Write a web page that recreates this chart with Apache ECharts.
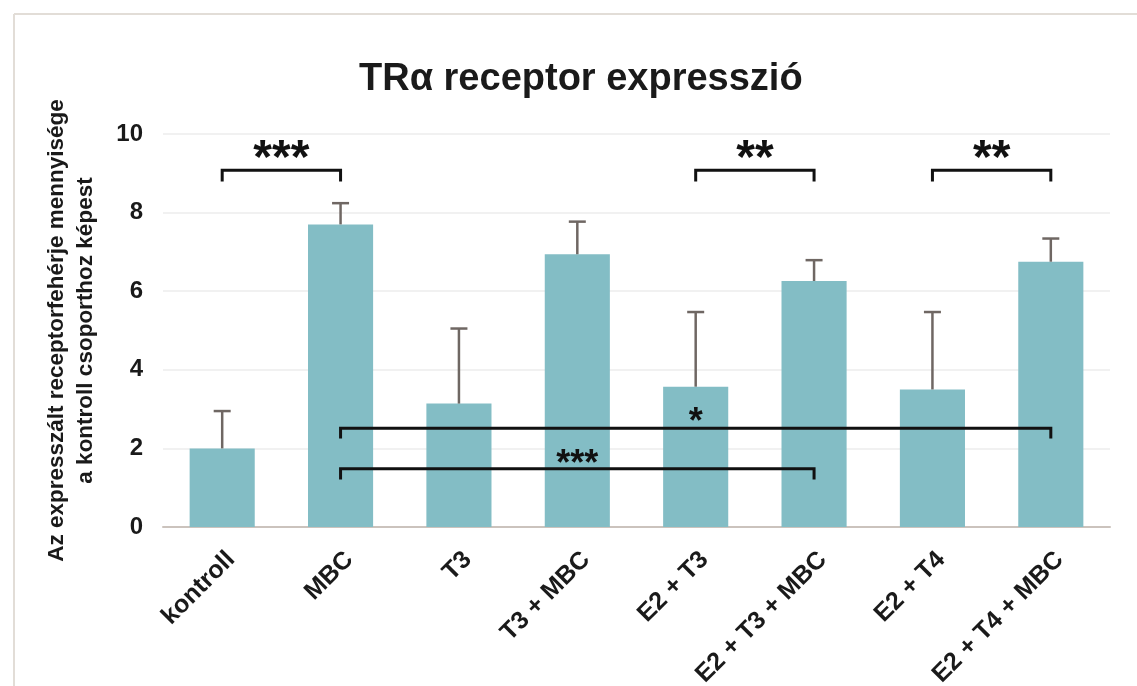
<!DOCTYPE html>
<html>
<head>
<meta charset="utf-8">
<script src="https://cdn.jsdelivr.net/npm/echarts@6/dist/echarts.min.js"></script>
<style>
html,body{margin:0;padding:0;background:#fff;}
#chart{width:1137px;height:686px;}
</style>
</head>
<body>
<div id="chart"></div>
<script>
// ---- data ----
var categories = ['kontroll', 'MBC', 'T3', 'T3 + MBC', 'E2 + T3', 'E2 + T3 + MBC', 'E2 + T4', 'E2 + T4 + MBC'];
var means = [2.00, 7.70, 3.14, 6.94, 3.57, 6.26, 3.50, 6.75];
var upperErr = [2.95, 8.24, 5.05, 7.77, 5.47, 6.79, 5.47, 7.34];
var yTicks = [0, 2, 4, 6, 8, 10];
// significance brackets: [from index, to index, line y, tick end y, label, label y, label size]
var brackets = [
  [0, 1, 9.08, 8.79, '***', 9.59, 48],
  [4, 5, 9.08, 8.79, '**', 9.59, 48],
  [6, 7, 9.08, 8.79, '**', 9.59, 48],
  [1, 7, 2.51, 2.25, '*', 2.84, 36],
  [1, 5, 1.48, 1.21, '***', 1.75, 36]
];

var chart = echarts.init(document.getElementById('chart'));
var FONT = '"Liberation Sans", Arial, sans-serif';

var errData = means.map(function (m, i) { return [i, m, upperErr[i]]; });

var option = {
  animation: false,
  backgroundColor: '#ffffff',
  title: {
    text: 'TRα receptor expresszió',
    left: 354,
    top: 56,
    textStyle: { fontFamily: FONT, fontSize: 38, fontWeight: 'bold', color: '#1a1a1a' }
  },
  graphic: [
    { type: 'line', shape: { x1: 14, y1: 14, x2: 1137, y2: 14 }, style: { stroke: '#e2ddd7', lineWidth: 2 } },
    { type: 'line', shape: { x1: 14, y1: 14, x2: 14, y2: 686 }, style: { stroke: '#e2ddd7', lineWidth: 2 } }
  ],
  grid: { left: 163, right: 27, top: 134, bottom: 159, containLabel: false, outerBoundsMode: 'none' },
  xAxis: {
    type: 'category',
    data: categories,
    axisLine: { lineStyle: { color: '#cbc3bd', width: 2 } },
    axisTick: { show: false },
    axisLabel: {
      rotate: 45, margin: 20, interval: 0, verticalAlign: 'top',
      fontFamily: FONT, fontSize: 25, fontWeight: 'bold', color: '#1a1a1a'
    }
  },
  yAxis: {
    type: 'value',
    min: yTicks[0], max: yTicks[yTicks.length - 1], interval: 2,
    name: 'Az expresszált receptorfehérje mennyisége\na kontroll csoporthoz képest',
    nameLocation: 'middle',
    nameGap: 63,
    nameTextStyle: { fontFamily: FONT, fontSize: 22.5, fontWeight: 'bold', color: '#1a1a1a', lineHeight: 29 },
    axisLine: { show: false },
    axisTick: { show: false },
    splitLine: { lineStyle: { color: '#ececec', width: 1.5 } },
    axisLabel: { margin: 20, fontFamily: FONT, fontSize: 24, fontWeight: 'bold', color: '#1a1a1a' }
  },
  series: [
    {
      type: 'bar',
      data: means,
      barWidth: '55%',
      itemStyle: { color: '#83bdc5' },
      z: 2
    },
    {
      type: 'custom',
      data: errData,
      z: 3,
      renderItem: function (params, api) {
        var x = api.value(0);
        var p0 = api.coord([x, api.value(1)]);
        var p1 = api.coord([x, api.value(2)]);
        var hw = 8.5;
        return {
          type: 'group',
          children: [
            { type: 'line', shape: { x1: p0[0], y1: p0[1], x2: p1[0], y2: p1[1] }, style: { stroke: '#6f6763', lineWidth: 2.5 } },
            { type: 'line', shape: { x1: p1[0] - hw, y1: p1[1], x2: p1[0] + hw, y2: p1[1] }, style: { stroke: '#6f6763', lineWidth: 2.5 } }
          ]
        };
      }
    },
    {
      type: 'custom',
      data: brackets.map(function (b) { return [b[0], b[1], b[2], b[3], b[5], b[6]]; }),
      z: 4,
      renderItem: function (params, api) {
        var b = brackets[params.dataIndex];
        var a0 = api.coord([b[0], b[2]]);
        var a1 = api.coord([b[1], b[2]]);
        var t0 = api.coord([b[0], b[3]]);
        var ly = api.coord([b[0], b[5]])[1];
        var lx = (a0[0] + a1[0]) / 2;
        var fs = b[6];
        return {
          type: 'group',
          children: [
            {
              type: 'polyline',
              shape: { points: [[a0[0], t0[1]], [a0[0], a0[1]], [a1[0], a1[1]], [a1[0], t0[1]]] },
              style: { stroke: '#111111', lineWidth: 3, fill: null }
            },
            {
              type: 'text',
              x: lx, y: ly + fs * 0.2,
              style: {
                text: b[4], fontFamily: FONT, fontSize: fs, fontWeight: 'bold',
                fill: '#111111', align: 'center', verticalAlign: 'middle'
              }
            }
          ]
        };
      }
    }
  ]
};
chart.setOption(option);
</script>
</body>
</html>
